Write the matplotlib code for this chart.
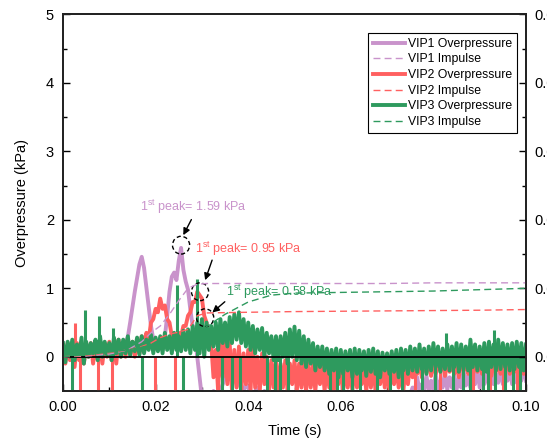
import numpy as np
import matplotlib.pyplot as plt
from matplotlib.lines import Line2D
from matplotlib.patches import Ellipse

plt.rcParams['font.family'] = ['Liberation Sans', 'DejaVu Sans']
plt.rcParams['mathtext.fontset'] = 'custom'
plt.rcParams['mathtext.rm'] = 'Liberation Sans'

# overpressure (kPa) read every 1 ms (0 ... 100 ms) and at the half ms in between
vip1_ms = [0.05, 0.08, 0.05, 0.10, 0.05, 0.08, 0.10, 0.05, 0.08, 0.10,
           0.08, 0.10, 0.12, 0.15, 0.29, 0.73, 1.15, 1.46, 1.02, 0.45,
           0.15, 0.12, 0.29, 0.95, 1.23, 1.40, 1.27, 0.98, 0.45, 0.00,
           -0.60, -0.70, -0.60, -0.55, -0.50, -0.30, -0.20, -0.30, -0.40, -0.50,
           -0.45, -0.60, -0.45, -0.55, -0.60, -0.70, -0.70, -0.70, -0.70, -0.70,
           -0.70, -0.70, -0.70, -0.70, -0.70, -0.70, -0.70, -0.65, -0.70, -0.60,
           -0.70, -0.65, -0.70, -0.60, -0.65, -0.70, -0.60, -0.65, -0.60, -0.55,
           -0.60, -0.55, -0.60, -0.55, -0.60, -0.55, -0.50, -0.50, -0.48, -0.50,
           -0.48, -0.50, -0.45, -0.48, -0.45, -0.48, -0.45, -0.42, -0.45, -0.40,
           -0.45, -0.40, -0.42, -0.40, -0.38, -0.40, -0.35, -0.40, -0.38, -0.35,
           -0.35]
vip1_half = [0.00, 0.03, 0.00, 0.05, 0.02, 0.00, 0.05, 0.03, 0.00, 0.05,
             0.03, 0.05, 0.10, 0.20, 0.50, 0.95, 1.35, 1.30, 0.75, 0.25,
             0.10, 0.15, 0.60, 1.17, 1.12, 1.59, 1.10, 0.69, 0.29, -0.30,
             -0.70, -0.65, -0.50, -0.60, -0.40, -0.25, -0.35, -0.25, -0.45, -0.40,
             -0.55, -0.50, -0.60, -0.50, -0.65, -0.70, -0.70, -0.70, -0.70, -0.70,
             -0.70, -0.70, -0.70, -0.70, -0.70, -0.70, -0.65, -0.70, -0.60, -0.70,
             -0.65, -0.60, -0.70, -0.65, -0.60, -0.70, -0.65, -0.60, -0.55, -0.65,
             -0.55, -0.60, -0.55, -0.60, -0.55, -0.45, -0.30, -0.40, -0.28, -0.35,
             -0.25, -0.35, -0.22, -0.30, -0.25, -0.32, -0.20, -0.28, -0.22, -0.18,
             -0.25, -0.20, -0.15, -0.25, -0.18, -0.22, -0.15, -0.20, -0.18, -0.15]

vip2_ms = [0.15, 0.20, 0.15, 0.20, 0.18, 0.15, 0.20, 0.22, 0.18, 0.20,
           0.22, 0.20, 0.25, 0.20, 0.25, 0.22, 0.25, 0.30, 0.35, 0.50,
           0.70, 0.85, 0.75, 0.50, 0.30, 0.35, 0.45, 0.60, 0.80, 0.95,
           0.85, 0.50, 0.20, 0.10, 0.30, 0.25, 0.20, 0.10, 0.15, 0.05,
           0.10, 0.20, 0.00, 0.05, 0.00, -0.05, -0.05, -0.10, -0.05, -0.10,
           -0.05, -0.10, -0.08, -0.10, -0.12, -0.10, -0.10, -0.12, -0.10, -0.15,
           -0.10, -0.12, -0.15, -0.10, -0.12, -0.15, -0.12, -0.10, -0.15, -0.12,
           -0.15, -0.12, -0.15, -0.18, -0.15, -0.08, -0.10, -0.05, -0.08, -0.10,
           -0.05, -0.10, -0.08, -0.05, -0.10, -0.08, -0.05, -0.10, -0.08, -0.05,
           -0.10, -0.05, -0.08, -0.10, -0.05, -0.08, -0.05, -0.10, -0.05, -0.08,
           -0.05]
vip2_half = [-0.10, -0.05, -0.15, -0.05, -0.10, 0.00, -0.10, -0.05, -0.10, 0.00,
             -0.05, -0.10, 0.00, 0.00, 0.05, 0.00, 0.05, 0.10, 0.25, 0.55,
             0.65, 0.70, 0.55, 0.30, 0.20, 0.30, 0.45, 0.65, 0.80, 0.90,
             0.60, 0.20, -0.30, -0.50, -0.30, -0.40, -0.50, -0.45, -0.50, -0.40,
             -0.50, -0.45, -0.50, -0.40, -0.50, -0.45, -0.50, -0.45, -0.50, -0.40,
             -0.50, -0.45, -0.50, -0.45, -0.50, -0.40, -0.50, -0.45, -0.50, -0.40,
             -0.50, -0.45, -0.50, -0.45, -0.40, -0.50, -0.45, -0.50, -0.40, -0.45,
             -0.50, -0.40, -0.45, -0.50, -0.40, -0.30, -0.25, -0.30, -0.22, -0.28,
             -0.25, -0.20, -0.28, -0.22, -0.25, -0.30, -0.20, -0.25, -0.28, -0.22,
             -0.25, -0.20, -0.28, -0.22, -0.25, -0.20, -0.25, -0.22, -0.20, -0.25]

vip3_ms = [0.20, 0.22, 0.25, 0.18, 0.28, 0.22, 0.20, 0.25, 0.30, 0.22,
           0.20, 0.28, 0.25, 0.25, 0.30, 0.22, 0.28, 0.30, 0.25, 0.32,
           0.28, 0.30, 0.35, 0.30, 0.35, 0.30, 0.38, 0.40, 0.45, 0.50,
           0.55, 0.50, 0.45, 0.50, 0.55, 0.50, 0.58, 0.62, 0.65, 0.55,
           0.50, 0.45, 0.40, 0.42, 0.35, 0.30, 0.30, 0.30, 0.35, 0.40,
           0.44, 0.38, 0.30, 0.25, 0.20, 0.15, 0.15, 0.12, 0.10, 0.12,
           0.10, 0.08, 0.10, 0.12, 0.10, 0.08, 0.10, 0.12, 0.08, 0.06,
           0.05, 0.08, 0.10, 0.12, 0.10, 0.15, 0.12, 0.18, 0.12, 0.15,
           0.20, 0.15, 0.12, 0.18, 0.15, 0.20, 0.18, 0.15, 0.25, 0.18,
           0.15, 0.20, 0.22, 0.18, 0.25, 0.20, 0.18, 0.20, 0.22, 0.20,
           0.18]
vip3_half = [-0.08, 0.00, -0.05, 0.02, -0.10, 0.00, 0.05, -0.05, 0.00, 0.03,
             -0.05, 0.05, 0.00, 0.05, 0.02, 0.08, 0.03, 0.05, 0.10, 0.05,
             0.08, 0.05, 0.10, 0.05, 0.10, 0.08, 0.10, 0.05, 0.10, 0.05,
             0.00, 0.10, 0.15, 0.10, 0.20, 0.15, 0.20, 0.25, 0.20, 0.15,
             0.10, 0.05, 0.10, 0.00, 0.05, -0.05, -0.05, 0.00, -0.10, 0.00,
             -0.05, -0.10, -0.15, -0.10, -0.20, -0.15, -0.20, -0.25, -0.20, -0.30,
             -0.25, -0.20, -0.30, -0.25, -0.20, -0.28, -0.22, -0.25, -0.30, -0.20,
             -0.25, -0.22, -0.30, -0.20, -0.25, -0.20, -0.22, -0.18, -0.25, -0.20,
             -0.15, -0.22, -0.18, -0.20, -0.15, -0.22, -0.18, -0.20, -0.15, -0.20,
             -0.18, -0.22, -0.15, -0.20, -0.18, -0.15, -0.20, -0.18, -0.15, -0.20]

# single-sample spikes (s, kPa)
vip2_spike_t = [0.0026, 0.0037, 0.0076, 0.0105, 0.0199, 0.0242, 0.0734,
                0.0760, 0.0814, 0.0842, 0.0886, 0.0922, 0.0950, 0.0980]
vip2_spike_v = [0.50, -0.6, -0.6, -0.6, -0.6, -0.6, -0.6,
                -0.6, -0.6, -0.6, -0.6, -0.6, -0.6, -0.6]
vip3_spike_t = [0.0019, 0.0047, 0.0078, 0.0108, 0.0170, 0.0246, 0.0260, 0.0290,
                0.0343, 0.0364, 0.0382, 0.0440, 0.0458, 0.0469, 0.0487, 0.0577,
                0.0591, 0.0605, 0.0624, 0.0641, 0.0678, 0.0706, 0.0732, 0.0775,
                0.0804, 0.0827, 0.0843, 0.0865, 0.0879, 0.0908, 0.0919, 0.0930,
                0.0933, 0.0955, 0.0973, 0.0987]
vip3_spike_v = [-0.6, 0.69, 0.60, 0.42, -0.6, 1.05, -0.6, 1.14,
                -0.6, -0.6, -0.6, -0.6, -0.6, -0.6, -0.6, -0.6,
                -0.6, -0.6, -0.6, -0.6, -0.6, -0.6, -0.6, -0.6,
                -0.6, 0.35, -0.6, -0.6, -0.6, -0.6, -0.6, 0.39,
                -0.6, -0.6, -0.6, -0.6]

# impulse (kPa s)
imp_t = [0.000, 0.005, 0.010, 0.014, 0.017, 0.019, 0.021, 0.023, 0.025, 0.027, 0.029,
         0.031, 0.035, 0.040, 0.045, 0.050, 0.060, 0.070, 0.080, 0.090, 0.100]
vip1_imp = [0.0, 0.0001, 0.0004, 0.0010, 0.0022, 0.0035, 0.0045, 0.0062, 0.0082, 0.0100, 0.0106,
            0.0107, 0.0107, 0.0107, 0.0107, 0.0107, 0.0107, 0.0107, 0.0108, 0.0108, 0.0108]
vip2_imp = [0.0, 0.0002, 0.0006, 0.0010, 0.0015, 0.0020, 0.0028, 0.0033, 0.0036, 0.0040, 0.0060,
            0.0064, 0.00645, 0.0065, 0.00655, 0.0066, 0.00665, 0.0067, 0.00675, 0.0068, 0.0069]
vip3_imp = [0.0, 0.0003, 0.0007, 0.0010, 0.0014, 0.0017, 0.0020, 0.0024, 0.0028, 0.0032, 0.0036,
            0.0044, 0.0062, 0.0080, 0.0090, 0.0093, 0.0094, 0.0095, 0.0096, 0.0098, 0.0100]

C1 = "#C993CB"
C2 = "#FF6060"
C3 = "#2E9A5E"


def trace(ms_vals, half_vals):
    t_ms = np.arange(len(ms_vals)) * 0.001
    t_half = t_ms[:len(half_vals)] + 0.0005
    t = np.empty(len(ms_vals) + len(half_vals))
    v = np.empty_like(t)
    t[0::2], v[0::2] = t_ms, ms_vals
    t[1::2], v[1::2] = t_half, half_vals
    return t, v


fig = plt.figure(figsize=(5.47, 4.43), dpi=100)
ax = fig.add_axes([0.1152, 0.1174, 0.8464, 0.8499])

lw = 2.8
ax.plot(*trace(vip1_ms, vip1_half), color=C1, lw=lw, zorder=2)
ax.plot(*trace(vip2_ms, vip2_half), color=C2, lw=lw, zorder=3)
ax.vlines(vip2_spike_t, 0, vip2_spike_v, color=C2, lw=2.2, zorder=3)
ax.plot(*trace(vip3_ms, vip3_half), color=C3, lw=lw, zorder=4)
ax.vlines(vip3_spike_t, 0, vip3_spike_v, color=C3, lw=2.2, zorder=4)
ax.axhline(0, color="black", lw=1.3, zorder=5)

ax.set_xlim(0, 0.1)
ax.set_ylim(-0.5, 5)
ax.set_xticks(np.arange(0, 0.101, 0.02))
ax.set_xticks(np.arange(0, 0.101, 0.01), minor=True)
ax.set_xticklabels([f"{v:.2f}" for v in np.arange(0, 0.101, 0.02)])
ax.set_yticks(range(6))
ax.set_yticks(np.arange(0, 5.01, 0.5), minor=True)
ax.set_xlabel("Time (s)", fontsize=10.5, labelpad=7)
ax.set_ylabel("Overpressure (kPa)", fontsize=10.5, labelpad=12)
ax.tick_params(which="both", direction="in", right=False, top=False,
               labelsize=10.5, width=1, pad=6.5)
ax.tick_params(which="major", length=5)
ax.tick_params(which="minor", length=3)
for s in ax.spines.values():
    s.set_linewidth(1.3)
    s.set_color("#222222")

ax2 = ax.twinx()
dash = (0, (5, 3))
ax2.plot(imp_t, vip1_imp, color=C1, lw=1, ls=dash)
ax2.plot(imp_t, vip2_imp, color=C2, lw=1, ls=dash)
ax2.plot(imp_t, vip3_imp, color=C3, lw=1, ls=dash)
ax2.set_ylim(-0.005, 0.05)
ax2.set_yticks(np.arange(0, 0.051, 0.01))
ax2.set_yticks(np.arange(0, 0.051, 0.005), minor=True)
ax2.set_yticklabels([f"{v:.2f}" for v in np.arange(0, 0.051, 0.01)])
ax2.tick_params(which="both", direction="in", labelsize=10.5, width=1, pad=6)
ax2.tick_params(which="major", length=5)
ax2.tick_params(which="minor", length=3)
for s in ax2.spines.values():
    s.set_linewidth(1.3)
    s.set_color("#222222")

# peak annotations
notes = [
    ("1$^{\\rm st}$ peak= 1.59 kPa", C1, (0.0166, 2.19), (0.0280, 2.04), (0.0257, 1.74), (0.0255, 1.63)),
    ("1$^{\\rm st}$ peak= 0.95 kPa", C2, (0.0285, 1.58), (0.0324, 1.45), (0.0305, 1.08), (0.0296, 0.95)),
    ("1$^{\\rm st}$ peak= 0.58 kPa", C3, (0.0352, 0.95), (0.0354, 0.83), (0.0318, 0.62), (0.0307, 0.57)),
]
for label, col, txy, a0, a1, cxy in notes:
    ax2.text(*txy, label, color=col, fontsize=9, va="center", ha="left", transform=ax.transData)
    ax2.annotate("", xy=a1, xytext=a0, xycoords=ax.transData, textcoords=ax.transData,
                 arrowprops=dict(arrowstyle="-|>", color="black", lw=1, mutation_scale=10))
    ax2.add_patch(Ellipse(cxy, 0.0037, 0.26, transform=ax.transData, fill=False,
                          edgecolor="black", lw=1, ls=(0, (3, 2))))

handles = [
    Line2D([], [], color=C1, lw=2.8), Line2D([], [], color=C1, lw=1, ls=dash),
    Line2D([], [], color=C2, lw=2.8), Line2D([], [], color=C2, lw=1, ls=dash),
    Line2D([], [], color=C3, lw=2.8), Line2D([], [], color=C3, lw=1, ls=dash),
]
labels = ["VIP1 Overpressure", "VIP1 Impulse", "VIP2 Overpressure",
          "VIP2 Impulse", "VIP3 Overpressure", "VIP3 Impulse"]
leg = ax2.legend(handles, labels, loc="upper right", bbox_to_anchor=(0.981, 0.951),
                 borderaxespad=0, fontsize=8.8, fancybox=False, framealpha=1,
                 edgecolor="black", handlelength=2.6, handletextpad=0.3,
                 labelspacing=0.3, borderpad=0.4)
leg.get_frame().set_linewidth(0.8)

fig.savefig("out.png", dpi=100)
